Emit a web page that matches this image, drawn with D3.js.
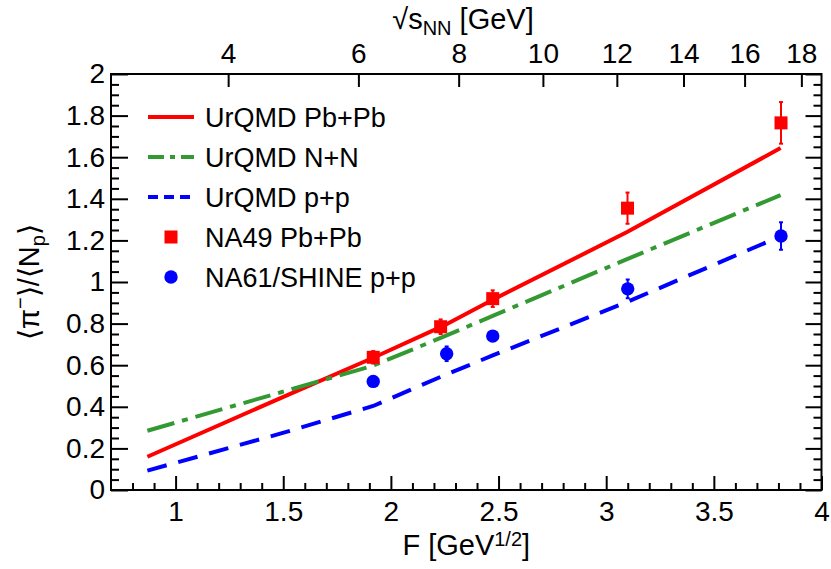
<!DOCTYPE html>
<html><head><meta charset="utf-8">
<script src="https://cdn.jsdelivr.net/npm/d3@7"></script>
<style>
body{margin:0;background:#fff}
svg{display:block}
text{font-family:"Liberation Sans",Arial,sans-serif;fill:#000}
</style></head>
<body>
<svg id="c" width="831" height="569"></svg>
<script>
// ---- data ----
const urqmdF      = [0.869, 1.49, 1.918, 2.245, 2.473, 3.097, 3.81];
const urqmdPbPb   = [0.16, 0.443, 0.636, 0.79, 0.915, 1.24, 1.644];
const urqmdNN     = [0.285, 0.47, 0.598, 0.737, 0.837, 1.11, 1.418];
const urqmdPP     = [0.093, 0.272, 0.404, 0.55, 0.647, 0.904, 1.22];

const na49F   = [1.918, 2.231, 2.473, 3.099, 3.812];
const na49Y   = [0.638, 0.785, 0.92, 1.355, 1.765];
const na49Err = [0.03, 0.035, 0.04, 0.075, 0.1];

const na61F   = [1.918, 2.259, 2.473, 3.10, 3.812];
const na61Y   = [0.522, 0.655, 0.74, 0.967, 1.221];
const na61Err = [0.02, 0.035, 0.02, 0.045, 0.066];

const xMajor = [1, 1.5, 2, 2.5, 3, 3.5, 4];
const yMajor = [0, 0.2, 0.4, 0.6, 0.8, 1, 1.2, 1.4, 1.6, 1.8, 2];
const topTicks = [4, 6, 8, 10, 12, 14, 16, 18];
const legendLabels = ["UrQMD Pb+Pb", "UrQMD N+N", "UrQMD p+p", "NA49 Pb+Pb", "NA61/SHINE p+p"];

// Fermi variable F from sqrt(s_NN)
const mN = 0.938;
const toF = s => Math.pow(s - 2*mN, 0.75) / Math.pow(s, 0.25);

// ---- layout ----
const L = 111, R = 821.5, T = 74, B = 490;
const FS = 28, LFS = 27, TFS = 29;
const svg = d3.select("#c");
const x = d3.scaleLinear().domain([0.7, 4]).range([L, R]);
const y = d3.scaleLinear().domain([0, 2]).range([B, T]);

const fmt = d => String(+(+d).toFixed(1));
const xMinor = d3.range(8, 41).map(v => v/10).filter(v => !xMajor.some(m => Math.abs(m - v) < 1e-6));
const yMinor = d3.range(0, 41).map(v => v/20).filter(v => !yMajor.some(m => Math.abs(m - v) < 1e-6));

function styleAxis(g){
  g.select(".domain").remove();
  g.selectAll(".tick line").attr("stroke", "#000").attr("stroke-width", 2);
  g.selectAll(".tick text").attr("font-size", FS).attr("font-family", "Liberation Sans, Arial, sans-serif").attr("fill", "#000");
}

// bottom
svg.append("g").attr("transform", `translate(0,${B})`)
  .call(d3.axisBottom(x).tickValues(xMinor).tickSize(-7).tickFormat("")).call(styleAxis);
svg.append("g").attr("transform", `translate(0,${B})`)
  .call(d3.axisBottom(x).tickValues(xMajor).tickSize(-14).tickPadding(11).tickFormat(fmt)).call(styleAxis);
// left
svg.append("g").attr("transform", `translate(${L},0)`)
  .call(d3.axisLeft(y).tickValues(yMinor).tickSize(-8).tickFormat("")).call(styleAxis);
svg.append("g").attr("transform", `translate(${L},0)`)
  .call(d3.axisLeft(y).tickValues(yMajor).tickSize(-17).tickPadding(6).tickFormat(fmt)).call(styleAxis);
// right
svg.append("g").attr("transform", `translate(${R},0)`)
  .call(d3.axisRight(y).tickValues(yMinor).tickSize(-8).tickFormat("")).call(styleAxis);
svg.append("g").attr("transform", `translate(${R},0)`)
  .call(d3.axisRight(y).tickValues(yMajor).tickSize(-16).tickFormat("")).call(styleAxis);
// top (sqrt s_NN)
const topF = topTicks.map(toF);
svg.append("g").attr("transform", `translate(0,${T})`)
  .call(d3.axisTop(x).tickValues(topF).tickSize(-13).tickPadding(11).tickFormat((d, i) => topTicks[i])).call(styleAxis);

// frame
svg.append("rect").attr("x", L).attr("y", T).attr("width", R - L).attr("height", B - T)
  .attr("fill", "none").attr("stroke", "#000").attr("stroke-width", 2);

// clip
svg.append("clipPath").attr("id", "clip").append("rect")
  .attr("x", L).attr("y", T).attr("width", R - L).attr("height", B - T);

const line = d3.line().x(d => x(d[0])).y(d => y(d[1]));
const series = [
  {vals: urqmdPbPb, color: "#ff0000", dash: null},
  {vals: urqmdNN, color: "#339933", dash: "28,8,6,8"},
  {vals: urqmdPP, color: "#0000ff", dash: "20,12"}
];
const gl = svg.append("g").attr("clip-path", "url(#clip)");
series.forEach(s => {
  gl.append("path").datum(urqmdF.map((f, i) => [f, s.vals[i]]))
    .attr("d", line).attr("fill", "none").attr("stroke", s.color)
    .attr("stroke-width", 4).attr("stroke-dasharray", s.dash);
});

// error bars + markers
function errBars(F, Y, E, color){
  const g = svg.append("g").attr("stroke", color).attr("stroke-width", 2);
  F.forEach((f, i) => {
    const cx = x(f), y1 = y(Y[i] - E[i]), y2 = y(Y[i] + E[i]);
    g.append("line").attr("x1", cx).attr("x2", cx).attr("y1", y1).attr("y2", y2);
    g.append("line").attr("x1", cx - 2).attr("x2", cx + 2).attr("y1", y1).attr("y2", y1);
    g.append("line").attr("x1", cx - 2).attr("x2", cx + 2).attr("y1", y2).attr("y2", y2);
  });
}
errBars(na49F, na49Y, na49Err, "#ff0000");
errBars(na61F, na61Y, na61Err, "#0000ff");
svg.append("g").selectAll("rect").data(na49F).join("rect")
  .attr("x", (d) => x(d) - 6.5).attr("y", (d, i) => y(na49Y[i]) - 6.5)
  .attr("width", 13).attr("height", 13).attr("fill", "#ff0000");
svg.append("g").selectAll("circle").data(na61F).join("circle")
  .attr("cx", d => x(d)).attr("cy", (d, i) => y(na61Y[i])).attr("r", 6.7).attr("fill", "#0000ff");

// legend
const legY = [117, 157, 197, 237, 277];
const lg = svg.append("g");
legendLabels.forEach((lab, i) => {
  const yy = legY[i];
  if (i < 3) {
    lg.append("line").attr("x1", 148).attr("x2", 194).attr("y1", yy).attr("y2", yy)
      .attr("stroke", series[i].color).attr("stroke-width", 4).attr("stroke-dasharray", i === 1 ? "16,6,5,6" : (i === 2 ? "10,6" : null));
  } else if (i === 3) {
    lg.append("rect").attr("x", 171 - 6.5).attr("y", yy - 6.5).attr("width", 13).attr("height", 13).attr("fill", "#ff0000");
  } else {
    lg.append("circle").attr("cx", 171).attr("cy", yy).attr("r", 6.7).attr("fill", "#0000ff");
  }
  lg.append("text").attr("x", 205).attr("y", yy + 9.5).attr("font-size", LFS).text(lab);
});

// x title
const xt = svg.append("text").attr("x", (L + R) / 2).attr("y", 555).attr("text-anchor", "middle").attr("font-size", TFS);
xt.append("tspan").text("F [GeV");
xt.append("tspan").attr("dy", -9).attr("font-size", 20).text("1/2");
xt.append("tspan").attr("dy", 9).text("]");

// top title
const tt = svg.append("text").attr("x", 463).attr("y", 29).attr("text-anchor", "middle").attr("font-size", TFS);
tt.append("tspan").text("\u221As");
tt.append("tspan").attr("dy", 6).attr("font-size", 20).text("NN");
tt.append("tspan").attr("dy", -6).text(" [GeV]");

// y title
const yt = svg.append("text").attr("transform", `translate(39,${(T + B) / 2}) rotate(-90)`)
  .attr("text-anchor", "middle").attr("font-size", TFS);
yt.append("tspan").text("\u27E8\u03C0");
yt.append("tspan").attr("dy", -12).attr("font-size", 20).text("\u2212");
yt.append("tspan").attr("dy", 12).text("\u27E9/\u27E8N");
yt.append("tspan").attr("dy", 6).attr("font-size", 20).text("p");
yt.append("tspan").attr("dy", -6).text("\u27E9");
</script>
</body></html>
